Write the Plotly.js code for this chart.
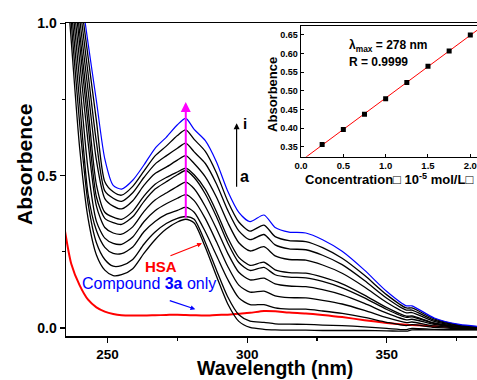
<!DOCTYPE html>
<html>
<head>
<meta charset="utf-8">
<script src="https://cdn.plot.ly/plotly-3.0.1.min.js"></script>
<style>
  html, body { margin: 0; padding: 0; background: #fff; }
  #chart { width: 477px; height: 380px; }
</style>
</head>
<body>
<div id="chart"></div>
<script>
// UV-Vis absorption spectra of HSA titrated with compound 3a (curves a -> i)
const wavelength = [234, 237, 240, 243, 246, 249, 252, 255, 259, 263, 267, 271, 275, 278, 281, 285, 289, 293, 297, 301, 306, 310, 315, 321, 327, 334, 342, 350, 357, 359, 367, 376, 385];

const curve01 = [1.30, 0.94, 0.59, 0.36, 0.24, 0.19, 0.172, 0.175, 0.195, 0.245, 0.29, 0.325, 0.348, 0.357, 0.345, 0.265, 0.17, 0.08, 0.022, 0.002, -0.004, -0.006, -0.007, -0.007, -0.008, -0.008, -0.008, -0.009, -0.010, -0.006, -0.006, -0.006, -0.006];
const curve02 = [1.33, 1.00, 0.67, 0.41, 0.28, 0.225, 0.203, 0.205, 0.225, 0.275, 0.315, 0.343, 0.36, 0.366, 0.357, 0.281, 0.19, 0.103, 0.044, 0.023, 0.019, 0.014, 0.013, 0.012, 0.010, 0.008, 0.004, -0.001, -0.005, -0.001, -0.004, -0.005, -0.005];
const curve03 = [1.35, 1.05, 0.74, 0.44, 0.32, 0.265, 0.245, 0.244, 0.266, 0.316, 0.35, 0.373, 0.386, 0.397, 0.38, 0.316, 0.238, 0.16, 0.099, 0.077, 0.077, 0.066, 0.062, 0.062, 0.056, 0.048, 0.035, 0.019, 0.008, 0.011, 0.002, -0.002, -0.004];
const curve04 = [1.38, 1.10, 0.81, 0.52, 0.35, 0.295, 0.278, 0.275, 0.299, 0.349, 0.385, 0.408, 0.426, 0.438, 0.418, 0.359, 0.283, 0.203, 0.141, 0.118, 0.121, 0.106, 0.10, 0.099, 0.091, 0.079, 0.058, 0.034, 0.018, 0.02, 0.007, 0.0, -0.003];
const curve05 = [1.41, 1.14, 0.875, 0.61, 0.40, 0.33, 0.312, 0.308, 0.332, 0.382, 0.42, 0.443, 0.465, 0.479, 0.457, 0.399, 0.326, 0.246, 0.183, 0.158, 0.164, 0.145, 0.138, 0.136, 0.126, 0.109, 0.081, 0.049, 0.027, 0.029, 0.012, 0.002, -0.002];
const curve06 = [1.45, 1.19, 0.93, 0.67, 0.43, 0.36, 0.346, 0.34, 0.365, 0.415, 0.456, 0.48, 0.503, 0.517, 0.494, 0.44, 0.365, 0.28, 0.215, 0.189, 0.199, 0.175, 0.167, 0.165, 0.153, 0.132, 0.099, 0.061, 0.035, 0.037, 0.015, 0.004, -0.001];
const curve07 = [1.46, 1.22, 0.97, 0.72, 0.47, 0.38, 0.364, 0.357, 0.383, 0.433, 0.472, 0.494, 0.512, 0.525, 0.503, 0.455, 0.382, 0.297, 0.232, 0.206, 0.216, 0.191, 0.182, 0.18, 0.167, 0.145, 0.108, 0.067, 0.039, 0.04, 0.017, 0.005, 0.0];
const curve08 = [1.48, 1.25, 1.015, 0.78, 0.55, 0.425, 0.40, 0.391, 0.418, 0.468, 0.507, 0.528, 0.551, 0.566, 0.54, 0.496, 0.429, 0.347, 0.28, 0.253, 0.267, 0.237, 0.225, 0.223, 0.207, 0.18, 0.135, 0.084, 0.05, 0.051, 0.022, 0.007, 0.001];
const curve09 = [1.50, 1.28, 1.06, 0.835, 0.61, 0.45, 0.426, 0.416, 0.444, 0.494, 0.538, 0.565, 0.59, 0.607, 0.578, 0.54, 0.473, 0.387, 0.319, 0.29, 0.307, 0.273, 0.26, 0.257, 0.239, 0.208, 0.156, 0.098, 0.059, 0.059, 0.026, 0.009, 0.002];
const curve10 = [1.52, 1.31, 1.10, 0.89, 0.68, 0.48, 0.447, 0.436, 0.465, 0.515, 0.565, 0.597, 0.632, 0.65, 0.619, 0.58, 0.509, 0.417, 0.348, 0.318, 0.338, 0.30, 0.287, 0.284, 0.264, 0.229, 0.173, 0.109, 0.066, 0.066, 0.03, 0.01, 0.003];
const curveTop = [1.52, 1.32, 1.13, 0.935, 0.745, 0.555, 0.468, 0.456, 0.485, 0.535, 0.59, 0.626, 0.667, 0.688, 0.652, 0.615, 0.545, 0.45, 0.38, 0.349, 0.371, 0.33, 0.315, 0.312, 0.29, 0.252, 0.19, 0.12, 0.073, 0.073, 0.033, 0.012, 0.004];
const curveRed = [0.36, 0.21, 0.14, 0.093, 0.068, 0.054, 0.046, 0.042, 0.041, 0.041, 0.042, 0.043, 0.044, 0.043, 0.042, 0.041, 0.043, 0.044, 0.047, 0.05, 0.056, 0.055, 0.051, 0.048, 0.043, 0.036, 0.026, 0.017, 0.011, 0.01, 0.006, 0.004, 0.002];

// Inset: absorbance at lambda max versus concentration
const concentration = [0.25, 0.5, 0.75, 1.0, 1.25, 1.5, 1.75, 2.0];
const absAtMax = [0.357, 0.397, 0.438, 0.479, 0.523, 0.566, 0.607, 0.650];

const FONT = 'Liberation Sans, Arial, sans-serif';
const xRange = [235.1, 382.3];
const yRange = [-0.026, 1.001];
const insetXRange = [0, 2.079];
const insetYRange = [0.324, 0.674];

// least-squares line through the inset points
const n = concentration.length;
const mx = concentration.reduce((a, b) => a + b, 0) / n;
const my = absAtMax.reduce((a, b) => a + b, 0) / n;
let sxy = 0, sxx = 0;
for (let i = 0; i < n; i++) {
  sxy += (concentration[i] - mx) * (absAtMax[i] - my);
  sxx += (concentration[i] - mx) ** 2;
}
const slope = sxy / sxx;
const intercept = my - slope * mx;
const fitX = insetXRange.slice();
const fitY = fitX.map(v => intercept + slope * v);

const blackCurves = [curve01, curve02, curve03, curve04, curve05, curve06, curve07, curve08, curve09, curve10];

const traces = [];
traces.push({
  x: wavelength, y: curveRed, mode: 'lines', xaxis: 'x', yaxis: 'y',
  line: {color: '#ff0000', width: 2, shape: 'spline', smoothing: 0.7}
});
blackCurves.forEach(c => traces.push({
  x: wavelength, y: c, mode: 'lines', xaxis: 'x', yaxis: 'y',
  line: {color: '#000000', width: 1.3, shape: 'spline', smoothing: 0.7}
}));
traces.push({
  x: wavelength, y: curveTop, mode: 'lines', xaxis: 'x', yaxis: 'y',
  line: {color: '#0000ff', width: 1.2, shape: 'spline', smoothing: 0.7}
});
traces.push({
  x: fitX, y: fitY, mode: 'lines', xaxis: 'x2', yaxis: 'y2',
  line: {color: '#ff0000', width: 1}
});
traces.push({
  x: concentration, y: absAtMax, mode: 'markers', xaxis: 'x2', yaxis: 'y2',
  marker: {symbol: 'square', size: 5, color: '#000000'}
});

const peakIdx = wavelength.indexOf(278);
const px = v => (v - 66) / 411;
const py = v => (336 - v) / 313;
const bold = (size, color) => ({family: FONT, size: size, color: color || '#000', weight: 700});

const layout = {
  width: 477, height: 380,
  margin: {l: 66, r: 0, t: 23, b: 44, pad: 0},
  paper_bgcolor: '#ffffff', plot_bgcolor: 'rgba(0,0,0,0)',
  showlegend: false,
  xaxis: {
    range: xRange, domain: [0, 1], anchor: 'y', automargin: false,
    showgrid: false, zeroline: false,
    showline: true, linecolor: '#000', linewidth: 1.5, mirror: true,
    ticks: 'outside', ticklen: 5, tickwidth: 1.3, tickcolor: '#000',
    tickvals: [250, 300, 350], ticktext: ['250', '300', '350'],
    minor: {tickvals: [275, 325, 375], ticks: 'outside', ticklen: 3, tickwidth: 1.2, tickcolor: '#000', showgrid: false},
    tickfont: bold(13.5)
  },
  yaxis: {
    range: yRange, domain: [0, 1], anchor: 'x', automargin: false,
    showgrid: false, zeroline: false,
    showline: true, linecolor: '#000', linewidth: 1.5, mirror: false,
    ticks: 'outside', ticklen: 5, tickwidth: 1.3, tickcolor: '#000',
    tickvals: [0, 0.5, 1.0], ticktext: ['0.0', '0.5', '1.0'],
    minor: {tickvals: [0.25, 0.75], ticks: 'outside', ticklen: 3, tickwidth: 1.2, tickcolor: '#000', showgrid: false},
    tickfont: bold(14)
  },
  xaxis2: {
    range: insetXRange, domain: [px(301), 1], anchor: 'y2', automargin: false,
    showgrid: false, zeroline: false,
    showline: true, linecolor: '#000', linewidth: 1.3, mirror: true,
    ticks: 'inside', ticklen: 3, tickwidth: 1, tickcolor: '#000',
    tickvals: [0, 0.5, 1.0, 1.5, 2.0], ticktext: ['0.0', '0.5', '1.0', '1.5', '2.0'],
    tickfont: bold(9.5)
  },
  yaxis2: {
    range: insetYRange, domain: [py(156.7), py(26)], anchor: 'x2', automargin: false,
    showgrid: false, zeroline: false,
    showline: true, linecolor: '#000', linewidth: 1.3, mirror: false,
    ticks: 'inside', ticklen: 3, tickwidth: 1, tickcolor: '#000',
    tickvals: [0.35, 0.40, 0.45, 0.50, 0.55, 0.60, 0.65],
    ticktext: ['0.35', '0.40', '0.45', '0.50', '0.55', '0.60', '0.65'],
    tickfont: bold(9)
  },
  annotations: [
    // axis titles
    {xref: 'paper', yref: 'paper', x: px(274.5), y: py(367.5), text: 'Wavelength (nm)',
     showarrow: false, xanchor: 'center', yanchor: 'middle', font: bold(19.5)},
    {xref: 'paper', yref: 'paper', x: px(24), y: py(165), text: 'Absorbence', textangle: -90,
     showarrow: false, xanchor: 'center', yanchor: 'middle', font: bold(21)},
    // titration direction arrow (lambda max)
    {xref: 'x', yref: 'y', axref: 'x', ayref: 'y', x: 278, y: 0.742, ax: 278, ay: curve01[peakIdx],
     text: '', showarrow: true, arrowcolor: '#ff00ff', arrowwidth: 2, arrowhead: 2, arrowsize: 1},
    // a -> i arrow
    {xref: 'x', yref: 'y', axref: 'x', ayref: 'y', x: 296.2, y: 0.672, ax: 296.2, ay: 0.459,
     text: '', showarrow: true, arrowcolor: '#000', arrowwidth: 1.2, arrowhead: 2, arrowsize: 1},
    {xref: 'paper', yref: 'paper', x: px(244.5), y: py(124), text: 'i', showarrow: false,
     xanchor: 'center', yanchor: 'middle', font: bold(15)},
    {xref: 'paper', yref: 'paper', x: px(244.5), y: py(177), text: 'a', showarrow: false,
     xanchor: 'center', yanchor: 'middle', font: bold(16)},
    // labels with pointers
    {xref: 'paper', yref: 'paper', x: px(160.5), y: py(266.5), text: 'HSA', showarrow: false,
     xanchor: 'center', yanchor: 'middle', font: bold(15, '#ff0000')},
    {xref: 'x', yref: 'y', x: 283.8, y: 0.278, ax: -33, ay: 13, text: '', showarrow: true,
     arrowcolor: '#ff0000', arrowwidth: 1.2, arrowhead: 2, arrowsize: 0.8},
    {xref: 'paper', yref: 'paper', x: px(149), y: py(283), text: 'Compound <b>3a</b> only', showarrow: false,
     xanchor: 'center', yanchor: 'middle', font: {family: FONT, size: 16, color: '#0000ff'}},
    {xref: 'x', yref: 'y', x: 281.4, y: 0.062, ax: -27, ay: -9, text: '', showarrow: true,
     arrowcolor: '#0000ff', arrowwidth: 1.2, arrowhead: 2, arrowsize: 0.8},
    // inset texts
    {xref: 'paper', yref: 'paper', x: px(347), y: py(46), text: 'λ<sub>max</sub> = 278 nm', showarrow: false,
     xanchor: 'left', yanchor: 'middle', font: bold(12)},
    {xref: 'paper', yref: 'paper', x: px(347), y: py(62), text: 'R = 0.9999', showarrow: false,
     xanchor: 'left', yanchor: 'middle', font: bold(12)},
    {xref: 'paper', yref: 'paper', x: px(389), y: py(178.5), text: 'Concentration□ 10<sup>-5</sup> mol/L□', showarrow: false,
     xanchor: 'center', yanchor: 'middle', font: bold(13)},
    {xref: 'paper', yref: 'paper', x: px(271.7), y: py(94.2), text: 'Absorbence', textangle: -90, showarrow: false,
     xanchor: 'center', yanchor: 'middle', font: bold(13)}
  ]
};

Plotly.newPlot('chart', traces, layout, {staticPlot: true, displayModeBar: false});
</script>
</body>
</html>
